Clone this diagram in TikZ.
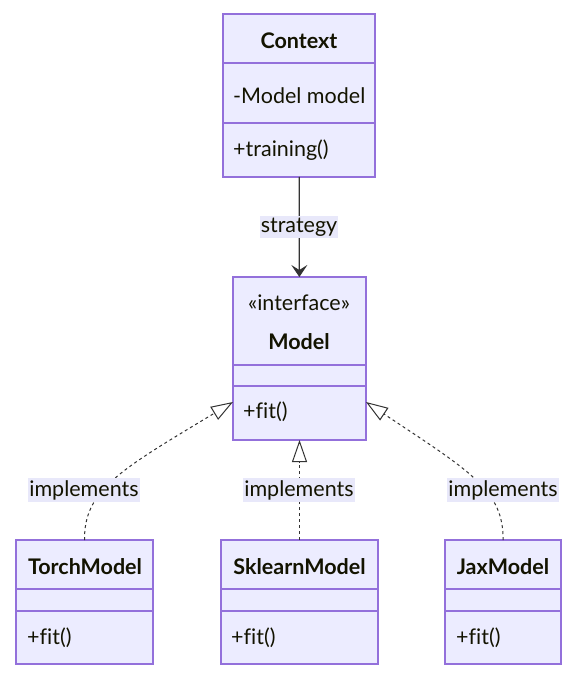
\documentclass[tikz,border=0pt]{standalone}
\usepackage{fontspec}
\setmainfont{Lato}[Ligatures=NoCommon]
\usetikzlibrary{arrows.meta}
\definecolor{mmfill}{HTML}{ECECFF}
\definecolor{mmborder}{HTML}{9370DB}
\definecolor{mmtext}{HTML}{131300}
\definecolor{mmedge}{HTML}{333333}
\definecolor{mmlabel}{RGB}{232,232,250}
\newcommand*\mysize{\fontsize{21.5}{26}\selectfont}
\tikzset{
    classbox/.style={draw=mmborder,fill=mmfill,line width=1.3pt,inner sep=0pt,outer sep=0pt},
    classline/.style={draw=mmborder,line width=1.3pt},
    classname/.style={font=\mysize\bfseries,text=mmtext,inner sep=0pt},
    member/.style={anchor=west,text=mmtext,inner sep=0pt},
    edgelabel/.style={fill=mmlabel,text=mmtext,inner xsep=1pt,inner ysep=2pt},
    assoc/.style={draw=mmedge,line width=1.2pt,-{Stealth[length=12pt,width=16pt,inset=5pt]}},
    realize/.style={draw=mmedge,line width=1pt,dash pattern=on 3pt off 3pt,
        -{Triangle[open,length=22pt,width=15pt,line width=1pt,fill=white]}},
}
% box with two dividers: name, x1, y1, x2, y2, first divider, second divider
\newcommand*\mydrawclass[7]{%
    \node[classbox,minimum width={(#4-#2)*1pt},minimum height={(#5-#3)*1pt}] (#1) at ({(#2+#4)/2},{(#3+#5)/2}) {};
    \draw[classline] (#2,#6) -- (#4,#6);
    \draw[classline] (#2,#7) -- (#4,#7);
}

\begin{document}
\begin{tikzpicture}[x=1pt,y=-1pt,font=\mysize]
\useasboundingbox (0,0) rectangle (577,676);
\fill[white] (0,0) rectangle (577,676);

\mydrawclass{context}{223}{14}{375}{177}{63}{123}
\mydrawclass{model}{233}{277}{366}{440}{365}{386}
\mydrawclass{torch}{16}{540}{153}{664}{589}{611}
\mydrawclass{sklearn}{221}{540}{378}{664}{589}{611}
\mydrawclass{jax}{445}{540}{561}{664}{589}{611}

\node[classname] (context-name) at (299,41) {Context};
\node[member] (context-attr) at (233,96) {-Model model};
\node[member] (context-op) at (233,150) {+training()};

\node[text=mmtext,inner sep=0pt] (model-stereo) at (299,303) {«interface»};
\node[classname] (model-name) at (299,342) {Model};
\node[member] (model-op) at (243,412) {+fit()};

\node[classname] (torch-name) at (85,567) {TorchModel};
\node[member] (torch-op) at (27,638) {+fit()};
\node[classname] (sklearn-name) at (299.5,567) {SklearnModel};
\node[member] (sklearn-op) at (231,638) {+fit()};
\node[classname] (jax-name) at (503,567) {JaxModel};
\node[member] (jax-op) at (456,638) {+fit()};

% edges
\draw[assoc] (context) -- (model);
\draw[realize] (torch.north) .. controls (84,490) and (120,470) .. ([yshift=-43.5pt]model.west);
\draw[realize] (sklearn.north) -- (sklearn.north |- model.south);
\draw[realize] (jax.north) .. controls (504,490) and (468,470) .. ([yshift=-43.5pt]model.east);

\node[edgelabel] (strategy-label) at (299,227) {strategy};
\node[edgelabel] (torch-label) at (84,490) {implements};
\node[edgelabel] (sklearn-label) at (299,490) {implements};
\node[edgelabel] (jax-label) at (503,490) {implements};
\end{tikzpicture}
\end{document}
